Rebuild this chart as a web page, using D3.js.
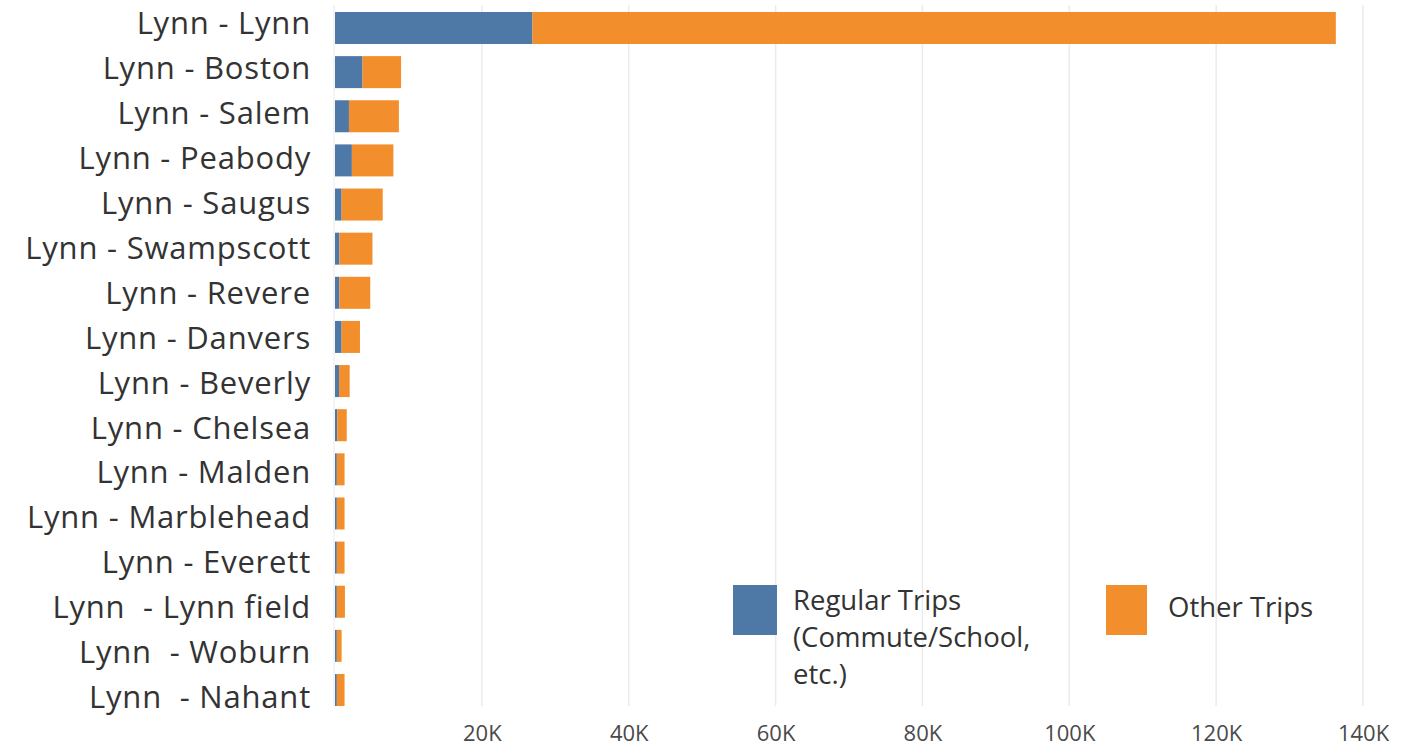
<!DOCTYPE html>
<html>
<head>
<meta charset="utf-8">
<script src="https://cdn.jsdelivr.net/npm/d3@7"></script>
<style>
  html, body { margin: 0; padding: 0; background: #fff; }
  svg { display: block; }
  text { white-space: pre; }
</style>
</head>
<body>
<svg id="chart" width="1417" height="747"></svg>
<script>
const categories = [
  "Lynn - Lynn", "Lynn - Boston", "Lynn - Salem", "Lynn - Peabody", "Lynn - Saugus",
  "Lynn - Swampscott", "Lynn - Revere", "Lynn - Danvers", "Lynn - Beverly", "Lynn - Chelsea",
  "Lynn - Malden", "Lynn - Marblehead", "Lynn - Everett", "Lynn  - Lynn field",
  "Lynn  - Woburn", "Lynn  - Nahant"
];
const regularTrips = [26900, 3750, 1900, 2300, 900, 600, 600, 900, 550, 300, 250, 250, 250, 250, 250, 250];
const otherTrips   = [109400, 5250, 6800, 5650, 5600, 4500, 4200, 2500, 1450, 1300, 1050, 1050, 1050, 1100, 650, 1050];
const seriesNames = ["Regular Trips\n(Commute/School,\netc.)", "Other Trips"];
const tickValues = [20000, 40000, 60000, 80000, 100000, 120000, 140000];
const tickLabels = ["20K", "40K", "60K", "80K", "100K", "120K", "140K"];
const colors = ["#4e79a7", "#f28e2b"];

const svg = d3.select("#chart");
const font = "'Open Sans', 'Noto Sans', sans-serif";

const x = d3.scaleLinear().domain([0, 140000]).range([335, 1363]);
const y = d3.scaleBand().domain(categories).range([12, 706]).paddingInner(0.275).paddingOuter(0);
const yLabel = d3.scalePoint().domain(categories).range([23, 697]);

// gridlines
svg.append("g").selectAll("line").data(tickValues).join("line")
  .attr("x1", d => x(d)).attr("x2", d => x(d))
  .attr("y1", 5).attr("y2", 706)
  .attr("stroke", "#ebebeb").attr("stroke-width", 1.5);
svg.append("line")
  .attr("x1", x(0) - 1).attr("x2", x(0) - 1).attr("y1", 5).attr("y2", 706)
  .attr("stroke", "#f0f0f0").attr("stroke-width", 1.5);

// x tick labels
const xAxis = d3.axisBottom(x).tickValues(tickValues)
  .tickFormat((d, i) => tickLabels[i]).tickSize(0).tickPadding(0);
const gx = svg.append("g").attr("transform", "translate(0,741)").call(xAxis);
gx.select(".domain").remove();
gx.selectAll("text")
  .attr("font-family", font).attr("font-size", 22).attr("fill", "#4a4a4a")
  .attr("y", 0).attr("dy", 0);

// stacked bars
const rows = categories.map((c, i) => ({ cat: c, r: regularTrips[i], o: otherTrips[i] }));
const stack = d3.stack().keys(["r", "o"])(rows);
svg.append("g").selectAll("g").data(stack).join("g")
  .attr("fill", (d, i) => colors[i])
  .selectAll("rect").data(d => d).join("rect")
  .attr("x", d => x(d[0]))
  .attr("width", d => x(d[1]) - x(d[0]))
  .attr("y", d => y(d.data.cat))
  .attr("height", y.bandwidth());

// category labels
svg.append("g").selectAll("text").data(categories).join("text")
  .attr("x", 311).attr("y", d => yLabel(d))
  .attr("dy", "0.36em")
  .attr("text-anchor", "end")
  .attr("font-family", font).attr("font-size", 31).attr("letter-spacing", 0.8).attr("fill", "#333")
  .text(d => d);

// legend
const legend = svg.append("g");
const legendItems = [
  { sx: 733, sw: 44, tx: 793, ty: 610, name: seriesNames[0], color: colors[0] },
  { sx: 1106, sw: 41, tx: 1168, ty: 617, name: seriesNames[1], color: colors[1] }
];
legendItems.forEach(it => {
  legend.append("rect").attr("x", it.sx).attr("y", 585).attr("width", it.sw).attr("height", 50)
    .attr("fill", it.color);
  const t = legend.append("text").attr("x", it.tx).attr("y", it.ty)
    .attr("font-family", font).attr("font-size", 27.5).attr("fill", "#333");
  it.name.split("\n").forEach((line, k) => {
    t.append("tspan").attr("x", it.tx).attr("dy", k === 0 ? 0 : 37).text(line);
  });
});
</script>
</body>
</html>
